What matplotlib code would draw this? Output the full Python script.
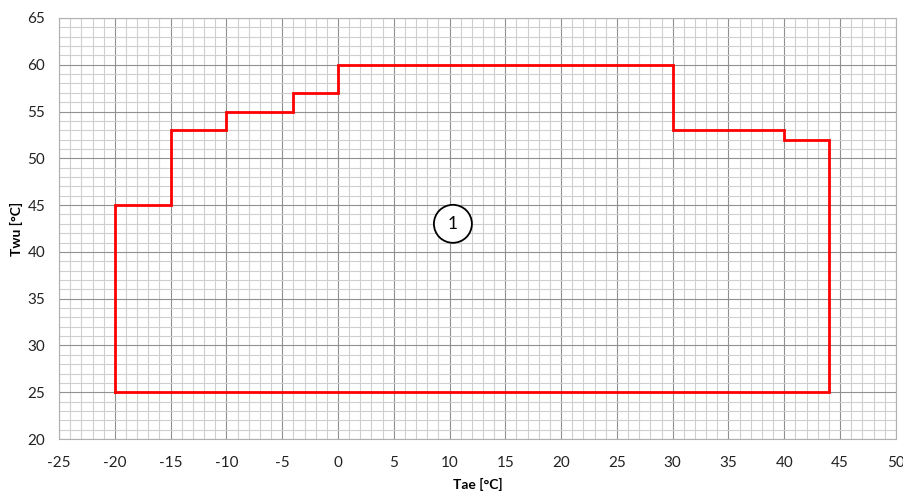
import matplotlib.pyplot as plt
from matplotlib.patches import Ellipse
from matplotlib.ticker import MultipleLocator

# operating envelope outline (Tae, Twu)
tae = [-20, -20, -15, -15, -10, -10, -4, -4, 0, 0, 30, 30, 40, 40, 44, 44, -20]
twu = [25, 45, 45, 53, 53, 55, 55, 57, 57, 60, 60, 53, 53, 52, 52, 25, 25]

region_label = "1"
region_pos = (10.3, 43)

plt.rcParams["font.family"] = ["Lato", "DejaVu Sans"]
plt.rcParams["axes.unicode_minus"] = False

fig = plt.figure(figsize=(9.04, 4.93), dpi=100)
ax = fig.add_axes([0.0653, 0.1095, 0.9257, 0.854])

ax.set_xlim(-25, 50)
ax.set_ylim(20, 65)
ax.xaxis.set_major_locator(MultipleLocator(5))
ax.yaxis.set_major_locator(MultipleLocator(5))
ax.xaxis.set_minor_locator(MultipleLocator(1))
ax.yaxis.set_minor_locator(MultipleLocator(1))
ax.grid(which="minor", color="#cfcfcf", linewidth=0.8)
ax.grid(which="major", color="#909090", linewidth=0.8)
ax.set_axisbelow(True)
ax.tick_params(which="both", length=0, labelsize=11, colors="#222222")
ax.tick_params(axis="x", pad=12)
ax.tick_params(axis="y", pad=10)
for s in ax.spines.values():
    s.set_color("#b0b0b0")
    s.set_linewidth(0.8)

ax.plot(tae, twu, color="#ff0000", linewidth=2.0, solid_joinstyle="miter")

# circled region number
w = 38 / 11.16
h = 38 / 9.36
ax.add_patch(Ellipse(region_pos, w, h, facecolor="white", edgecolor="black", linewidth=1.3, zorder=3))
ax.text(region_pos[0], region_pos[1], region_label, ha="center", va="center", fontsize=12.5, zorder=4)

ax.set_xlabel("Tae [°C]", fontsize=10, fontweight="bold", labelpad=6)
ax.set_ylabel("Twu [°C]", fontsize=10, fontweight="bold", labelpad=3)

fig.savefig("out.png", dpi=100)
